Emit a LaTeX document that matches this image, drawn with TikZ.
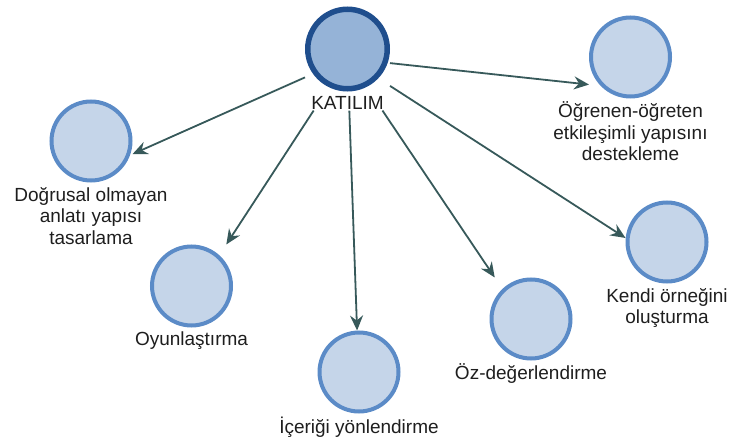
\documentclass[tikz,border=0pt]{standalone}
\usepackage{fontspec}
\setmainfont{Liberation Sans}
\usetikzlibrary{arrows.meta,positioning,fit,intersections}
\definecolor{hubfill}{HTML}{95B3D7}
\definecolor{hubline}{HTML}{1F4E8D}
\definecolor{leaffill}{HTML}{C5D5E9}
\definecolor{leafline}{HTML}{5B8BC7}
\definecolor{linkcol}{HTML}{37595A}
\definecolor{labelcol}{HTML}{1E1E1E}

% arrow from the centre group to the square frame of circle #1
\newcommand\joinhub[1]{%
  \path[name path=ray#1] (g0.center) -- (g#1.center);
  \path[name path=frame#1] (c#1.west |- c#1.north) rectangle (c#1.east |- c#1.south);
  \path[name intersections={of=ray#1 and frame#1, sort by=ray#1, by=e#1}];
  \draw[link] (g0) -- (e#1);
}

\begin{document}
\begin{tikzpicture}[x=1pt,y=-1pt,
  hub/.style={circle, draw=hubline, fill=hubfill, line width=5.5pt, minimum size=79.5pt, inner sep=0pt},
  leaf/.style={circle, draw=leafline, fill=leaffill, line width=4pt, minimum size=79pt, inner sep=0pt},
  caption/.style={font=\fontsize{19}{21.5}\selectfont, text=labelcol, align=center,
                  inner xsep=0pt, inner ysep=1.5pt, outer sep=0pt},
  group/.style={inner sep=0pt, outer sep=0pt},
  link/.style={draw=linkcol, line width=1.8pt, -{Stealth[length=15pt,width=13pt,inset=5pt]}}]
\useasboundingbox (0,0) rectangle (730,438);

% central concept
\node[hub] (c0) at (347.5,49) {};
\node[caption, below=3pt of c0] (l0) {KATILIM};

% surrounding concepts
\node[leaf] (c1) at (91,141) {};
\node[caption, below=3pt of c1] (l1) {Doğrusal olmayan\\anlatı yapısı\\tasarlama};

\node[leaf] (c2) at (630.5,57) {};
\node[caption, below=2pt of c2] (l2) {Öğrenen-öğreten\\etkileşimli yapısını\\destekleme};

\node[leaf] (c3) at (191.5,286) {};
\node[caption, below=3pt of c3] (l3) {Oyunlaştırma};

\node[leaf] (c4) at (359,372) {};
\node[caption, below=2pt of c4] (l4) {İçeriği yönlendirme};

\node[leaf] (c5) at (531,319) {};
\node[caption, below=2pt of c5] (l5) {Öz-değerlendirme};

\node[leaf] (c6) at (667,242) {};
\node[caption, below=3pt of c6] (l6) {Kendi örneğini\\oluşturma};

% each concept together with its caption
\node[group, fit=(c0.north)(c0.west)(c0.east)(l0)] (g0) {};
\node[group, fit=(c1.north)(c1.west)(c1.east)(l1)] (g1) {};
\node[group, fit=(c2.north)(c2.west)(c2.east)(l2)] (g2) {};
\node[group, fit=(c3.north)(c3.west)(c3.east)(l3)] (g3) {};
\node[group, fit=(c4.north)(c4.west)(c4.east)(l4)] (g4) {};
\node[group, fit=(c5.north)(c5.west)(c5.east)(l5)] (g5) {};
\node[group, fit=(c6.north)(c6.west)(c6.east)(l6)] (g6) {};

% links
\joinhub{1}
\joinhub{2}
\joinhub{3}
\joinhub{4}
\joinhub{5}
\joinhub{6}
\end{tikzpicture}
\end{document}
